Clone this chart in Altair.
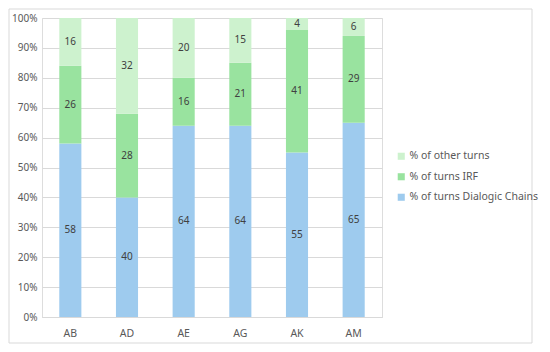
import altair as alt
import pandas as pd

categories = ["AB", "AD", "AE", "AG", "AK", "AM"]
dialogic = [58, 40, 64, 64, 55, 65]
irf = [26, 28, 16, 21, 41, 29]
other = [16, 32, 20, 15, 4, 6]
ytick_values = [0, 10, 20, 30, 40, 50, 60, 70, 80, 90, 100]

series_names = ["% of turns Dialogic Chains", "% of turns IRF", "% of other turns"]
series_values = [dialogic, irf, other]
legend_order = ["% of other turns", "% of turns IRF", "% of turns Dialogic Chains"]
legend_colors = ["#CDF2CE", "#99E39F", "#9ECBEE"]

rows = []
for si, (name, vals) in enumerate(zip(series_names, series_values)):
    for c, v in zip(categories, vals):
        rows.append({"cat": c, "series": name, "order": si, "value": v})
df = pd.DataFrame(rows)

FONT = "Noto Sans"

base = alt.Chart(df).transform_stack(
    stack="value", groupby=["cat"], as_=["y0", "y1"],
    sort=[alt.SortField("order", "ascending")]
).transform_calculate(mid="(datum.y0 + datum.y1) / 2")

xscale = alt.Scale(paddingInner=0.61, paddingOuter=0.305)
yscale = alt.Scale(domain=[0, 100], nice=False)

xaxis = alt.Axis(labelAngle=0, ticks=False, domain=True, domainColor="#D9D9D9",
                 labelPadding=11, labelFontSize=10.5, labelColor="#595959",
                 labelFont=FONT, grid=False)
yaxis = alt.Axis(values=ytick_values, labelExpr="datum.value + '%'",
                 ticks=False, domain=False, grid=True, gridColor="#D9D9D9",
                 labelOverlap=False,
                 labelPadding=5, labelFontSize=10, labelColor="#595959",
                 labelFont=FONT)

bars = base.mark_bar().encode(
    x=alt.X("cat:N", sort=categories, title=None, scale=xscale, axis=xaxis),
    y=alt.Y("y0:Q", title=None, scale=yscale, axis=yaxis),
    y2="y1:Q",
    color=alt.Color("series:N", scale=alt.Scale(domain=legend_order, range=legend_colors),
                    legend=alt.Legend(title=None, orient="none", legendX=354, legendY=133,
                                      symbolType="square", symbolSize=50, symbolStrokeWidth=0,
                                      labelFontSize=10.5, labelColor="#595959", labelFont=FONT,
                                      rowPadding=9.5, labelOffset=3)),
)

labels = base.mark_text(fontSize=10, color="#404040", font=FONT).encode(
    x=alt.X("cat:N", sort=categories, title=None, scale=xscale, axis=xaxis),
    y=alt.Y("mid:Q", title=None, scale=yscale, axis=yaxis),
    text=alt.Text("value:Q"),
)

frame = alt.Chart(pd.DataFrame({"a": [0]})).mark_rect(
    fill=None, stroke="#D9D9D9", strokeWidth=1
).encode(x=alt.value(-33), x2=alt.value(490), y=alt.value(-9), y2=alt.value(325))

chart = alt.layer(bars, labels, frame).properties(
    width=340, height=299,
    autosize=alt.AutoSizeParams(type="none"),
    padding={"left": 34, "top": 10, "right": 160, "bottom": 27},
).configure_view(stroke=None).configure(background="white")

chart.save("out.html", embed_options={"renderer": "svg", "actions": False})
